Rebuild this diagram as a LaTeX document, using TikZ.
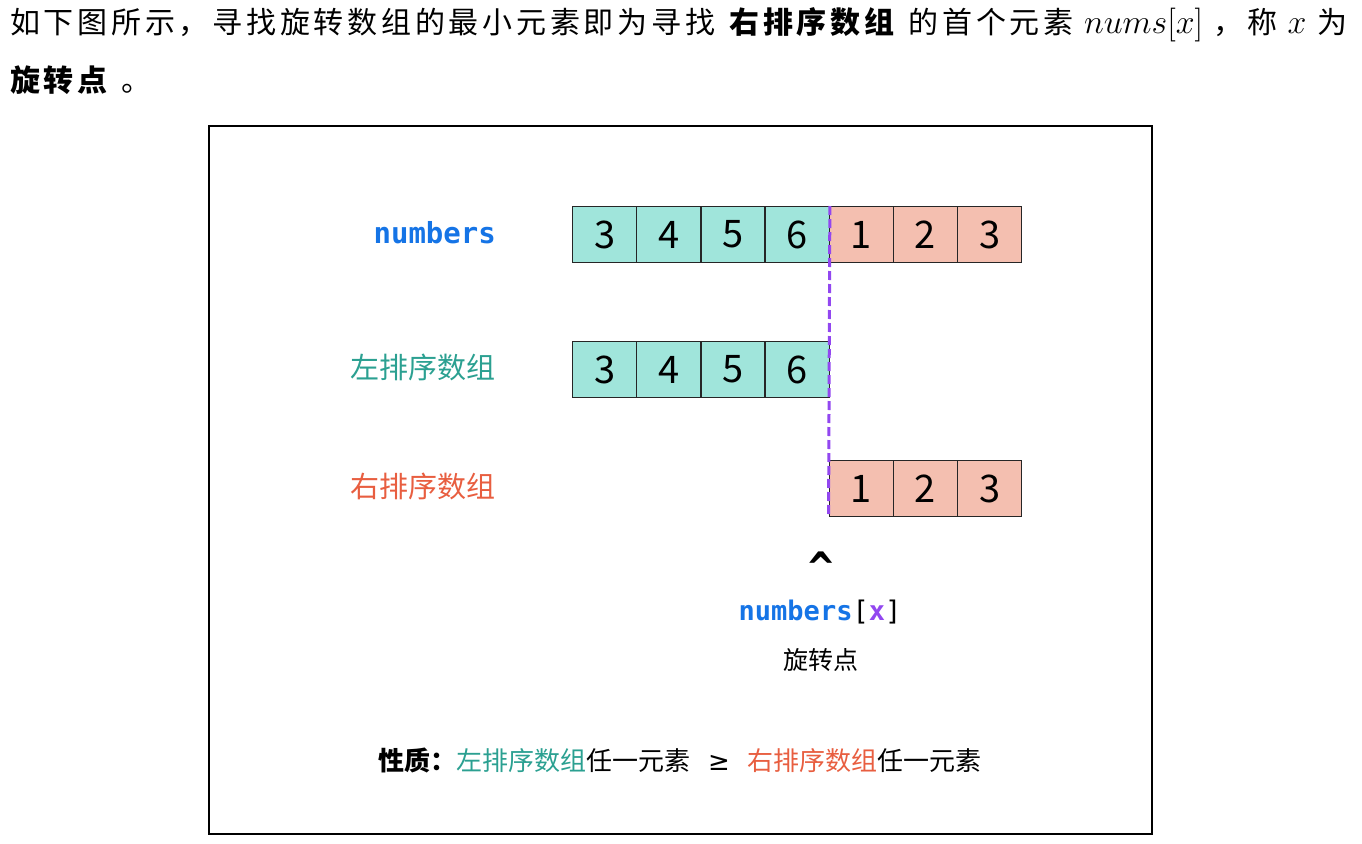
\documentclass[tikz,border=0pt]{standalone}
\usepackage{graphicx}
\usepackage{fontspec}
\setmainfont{Noto Sans CJK SC}
\newfontfamily\prosefont[LetterSpace=12.5]{Noto Sans CJK SC}
\newfontfamily\codefont{DejaVu Sans Mono}
\newfontfamily\symfont{DejaVu Sans}
\definecolor{cblue}{RGB}{21,116,230}
\definecolor{cteal}{RGB}{43,160,145}
\definecolor{corange}{RGB}{232,94,64}
\definecolor{cpurple}{RGB}{146,71,240}
\definecolor{tealfill}{RGB}{160,229,219}
\definecolor{salmonfill}{RGB}{244,191,176}
\tikzset{
  cell/.style={draw=black!85, line width=1.3pt, minimum width=64.14pt, minimum height=56pt,
    inner sep=0pt, anchor=north west, font=\fontsize{38}{38}\selectfont},
  lcell/.style={cell, fill=tealfill},
  rcell/.style={cell, fill=salmonfill},
  rowlabel/.style={anchor=east, inner sep=0pt, font=\fontsize{29}{34}\selectfont},
  prose/.style={anchor=west, inner sep=0pt, font=\fontsize{30}{36}\prosefont},
  pivotline/.style={draw=cpurple, line width=3pt, dash pattern=on 9pt off 4pt},
}
\newcommand{\mathbig}[1]{\scalebox{1.36}{\fontsize{24.88}{30}\selectfont$#1$}}
\begin{document}
\begin{tikzpicture}[x=1pt,y=-1pt]
\useasboundingbox (0,0) rectangle (1362,843);
% prose above
\node[prose] (line1) at (10,25) {如下图所示，寻找旋转数组的最小元素即为寻找 \textbf{右排序数组} 的首个元素 \mathbig{nums[x]} ，称 \mathbig{x} 为};
\node[prose] (line2) at (10,80) {\textbf{旋转点} 。};
% frame
\draw[line width=1.5pt] (209,126) rectangle (1152,834);
% top row
\foreach \v [count=\i] in {3,4,5,6}
  \node[lcell] (t\i) at ({572+(\i-1)*64.14},206) {\v};
\foreach \v [count=\i from 5] in {1,2,3}
  \node[rcell] (t\i) at ({572+(\i-1)*64.14},206) {\v};
% middle row
\foreach \v [count=\i] in {3,4,5,6}
  \node[lcell] (m\i) at ({572+(\i-1)*64.14},341) {\v};
% bottom row
\foreach \v [count=\i] in {1,2,3}
  \node[rcell] (b\i) at ({828.56+(\i-1)*64.14},460) {\v};
% labels
\node[rowlabel, font=\fontsize{29}{34}\codefont\bfseries, text=cblue] (lnum) at (496,233) {numbers};
\node[rowlabel, text=cteal] (lleft) at (496,367) {左排序数组};
\node[rowlabel, text=corange] (lright) at (496,486) {右排序数组};
% pivot dashed line
\draw[pivotline] (t4.north east) -- (b1.south west);
% caret and pivot labels
\node[inner sep=0pt, anchor=north, font=\fontsize{42}{42}\codefont\bfseries] (caret) at (821,552) {\^{}};
\node[inner sep=0pt, font=\fontsize{27}{32}\codefont] (px) at (820,612)
  {{\bfseries\color{cblue}numbers}[{\bfseries\color{cpurple}x}]};
\node[inner sep=0pt, font=\fontsize{25}{30}\selectfont] (pname) at (821,660) {旋转点};
% property
\node[inner sep=0pt, font=\fontsize{26}{30}\selectfont] (prop) at (680,760)
  {{\bfseries 性质：}\textcolor{cteal}{左排序数组}任一元素\hspace{18pt}{\symfont ≥}\hspace{18pt}\textcolor{corange}{右排序数组}任一元素};
\end{tikzpicture}
\end{document}
